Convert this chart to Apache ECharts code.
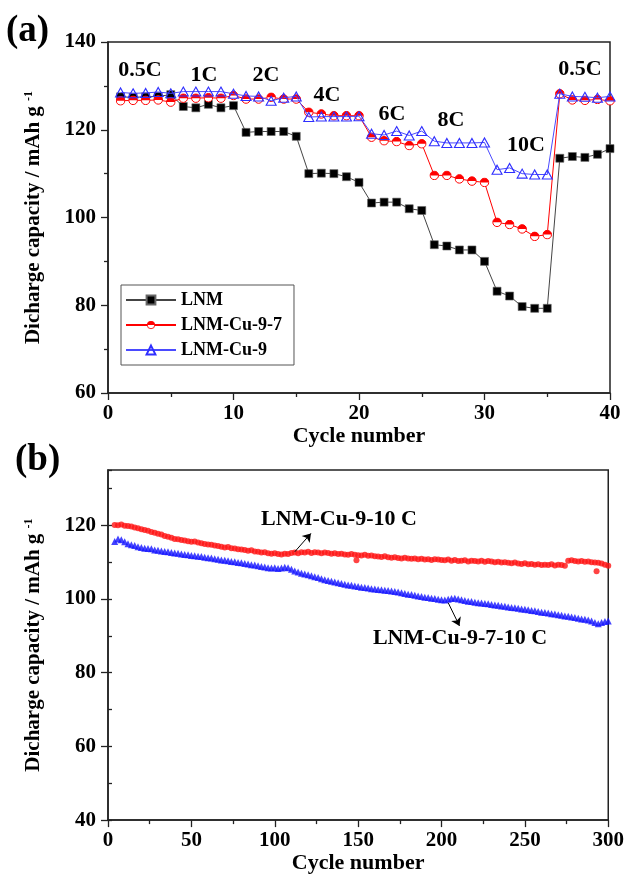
<!DOCTYPE html>
<html><head><meta charset="utf-8">
<script src="https://cdn.jsdelivr.net/npm/echarts@6/dist/echarts.min.js"></script>
<style>html,body{margin:0;padding:0;background:#fff}#c{width:627px;height:875px}</style>
</head><body><div id="c"></div>
<script>
// ---------- Panel (a): rate capability ----------
const cyclesA = [1,2,3,4,5,6,7,8,9,10,11,12,13,14,15,16,17,18,19,20,21,22,23,24,25,26,27,28,29,30,31,32,33,34,35,36,37,38,39,40];
const lnm = [127.5,127.4,127.5,127.6,128.0, 125.3,125.0,125.8,125.0,125.5, 119.4,119.6,119.6,119.6,118.5, 110.0,110.1,110.0,109.3,108.0, 103.3,103.5,103.5,102.0,101.6, 93.8,93.5,92.6,92.6,90.0, 83.2,82.1,79.7,79.3,79.3, 113.5,113.9,113.7,114.4,115.7];
const lnmCu97 = [126.6,126.7,126.7,126.8,126.3, 127.2,127.2,127.3,127.2,127.8, 127.0,127.0,127.4,127.0,127.0, 124.0,123.6,123.2,123.2,123.2, 118.3,117.5,117.3,116.4,116.8, 109.6,109.6,108.8,108.3,108.0, 98.9,98.4,97.4,95.7,96.1, 128.2,126.8,126.7,126.9,126.6];
const lnmCu9 = [128.5,128.3,128.4,128.6,128.3, 128.7,128.7,128.7,128.7,128.2, 127.7,127.6,126.6,127.3,127.6, 122.9,123.0,123.0,123.0,123.1, 119.1,118.8,119.7,118.7,119.7, 117.4,117.0,117.0,117.0,117.1, 110.9,111.3,110.0,109.8,109.8, 128.2,127.6,127.5,127.3,127.6];
const rateLabels = ['0.5C','1C','2C','4C','6C','8C','10C','0.5C'];
const seriesNamesA = ['LNM','LNM-Cu-9-7','LNM-Cu-9'];

// ---------- Panel (b): long cycling at 10 C ----------
const cyclesB = [];
for (let c = 4; c <= 300; c += 2) cyclesB.push(c);
const cu9_10C = [120.1,120.0,120.2,119.9,119.8,119.7,119.4,119.2,118.9,
 118.7,118.5,118.2,118.0,117.7,117.5,117.1,116.9,116.6,116.3,
 116.2,116.0,115.9,115.7,115.5,115.6,115.3,115.1,114.9,114.8,
 114.7,114.5,114.4,114.2,114.0,114.1,113.8,113.7,113.5,113.4,
 113.3,113.1,113.2,112.9,112.8,112.6,112.7,112.4,112.3,112.4,
 112.2,112.1,112.3,112.2,112.5,112.6,112.4,112.7,112.6,112.8,
 112.5,112.7,112.6,112.4,112.6,112.5,112.3,112.4,112.2,112.3,
 112.1,112.0,112.2,112.0,111.9,111.8,112.0,111.7,111.8,111.6,
 111.5,111.4,111.6,111.3,111.2,111.3,111.1,111.0,111.2,111.0,
 110.9,111.0,110.8,110.9,110.7,110.8,110.6,110.8,110.7,110.6,
 110.5,110.7,110.4,110.6,110.3,110.4,110.5,110.2,110.4,110.3,
 110.2,110.4,110.1,110.3,110.2,110.0,110.1,109.9,110.0,109.8,
 109.7,109.9,109.6,109.5,109.7,109.4,109.5,109.3,109.4,109.2,
 109.3,109.2,109.4,109.1,109.3,109.2,109.0,110.4,110.5,110.3,
 110.2,110.3,110.1,110.2,110.0,109.9,109.8,109.6,109.3,109.0];
const cu9OutlierCycles = [149, 293];
const cu9OutlierValues = [110.5, 107.5];
const cu97_10C = [115.6,116.3,116.1,115.5,115.0,114.7,114.5,114.2,114.0,
 113.8,113.7,113.6,113.3,113.2,113.0,112.9,112.8,112.6,112.5,
 112.4,112.2,112.1,112.0,111.8,111.7,111.6,111.5,111.3,111.2,
 111.1,110.9,110.8,110.6,110.5,110.4,110.2,110.1,109.9,109.8,
 109.6,109.5,109.3,109.2,109.0,108.8,108.7,108.5,108.4,108.5,
 108.3,108.4,108.6,108.5,108.1,107.6,107.3,107.0,106.8,106.6,
 106.3,106.0,105.8,105.5,105.2,105.0,104.8,104.6,104.4,104.2,
 104.0,103.8,103.7,103.5,103.4,103.2,103.1,103.0,102.8,102.7,
 102.6,102.5,102.4,102.3,102.2,102.0,101.9,101.7,101.5,101.3,
 101.2,101.0,100.8,100.7,100.5,100.4,100.2,100.1,99.9,99.8,
 99.7,99.9,100.1,100.2,100.0,99.8,99.6,99.4,99.3,99.1,
 99.0,98.9,98.8,98.7,98.5,98.4,98.3,98.1,98.0,97.8,
 97.7,97.6,97.5,97.3,97.2,97.1,96.9,96.8,96.6,96.4,
 96.3,96.2,96.0,95.9,95.7,95.6,95.4,95.3,95.1,95.0,
 94.8,94.6,94.5,94.3,94.0,93.6,93.3,93.6,93.9,94.0];
const seriesNamesB = ['LNM-Cu-9-10 C','LNM-Cu-9-7-10 C'];

// ---------- styling ----------
const FF = '"Liberation Serif","Times New Roman",serif';
const AX = '#222';
const pair = (xs, ys) => xs.map((x, i) => [x, ys[i]]);
const halfSvg = '<svg xmlns="http://www.w3.org/2000/svg" width="40" height="40" viewBox="0 0 40 40">' +
  '<circle cx="20" cy="20" r="17" fill="#ffffff" stroke="#ff0000" stroke-width="4"/>' +
  '<path d="M3 20 A17 17 0 0 1 37 20 Z" fill="#ff0000"/></svg>';
const halfCircle = 'image://data:image/svg+xml;charset=utf-8,' + encodeURIComponent(halfSvg);

const labelStyle = {color: '#000', fontFamily: FF, fontWeight: 'bold', fontSize: 21};
const nameStyle = {color: '#000', fontFamily: FF, fontWeight: 'bold', fontSize: 21,
  rich: {s: {fontFamily: FF, fontWeight: 'bold', fontSize: 12, color: '#000', verticalAlign: 'top', lineHeight: 12}}};

function xAxisCfg(grid, max, interval) {
  return {type: 'value', gridIndex: grid, min: 0, max: max, interval: interval,
    name: 'Cycle number', nameLocation: 'middle', nameGap: 26,
    nameTextStyle: {color: '#000', fontFamily: FF, fontWeight: 'bold', fontSize: 22},
    axisLine: {show: true, onZero: false, lineStyle: {color: AX, width: 1.5}},
    axisTick: {show: true, length: 7, lineStyle: {color: AX, width: 1.3}},
    minorTick: {show: true, splitNumber: 2, length: 4, lineStyle: {color: AX, width: 1.3}},
    axisLabel: Object.assign({margin: 10}, labelStyle),
    splitLine: {show: false}, minorSplitLine: {show: false}};
}

const option = {
  animation: false,
  backgroundColor: '#fff',
  grid: [
    {left: 108, right: 17, top: 42, height: 351, show: true, borderColor: AX, borderWidth: 1.5, backgroundColor: 'transparent'},
    {left: 108, right: 17, top: 470, height: 354, show: true, borderColor: AX, borderWidth: 1.5, backgroundColor: 'transparent'}
  ],
  xAxis: [xAxisCfg(0, 40, 10), xAxisCfg(1, 300, 50)],
  yAxis: [
    {type: 'value', gridIndex: 0, min: 60, max: 140, interval: 20,
      name: 'Dicharge capacity / mAh g {s|-1}', nameLocation: 'middle', nameGap: 64, nameTextStyle: nameStyle,
      axisLine: {show: true, onZero: false, lineStyle: {color: AX, width: 1.5}},
      axisTick: {show: true, length: 7, lineStyle: {color: AX, width: 1.3}},
      minorTick: {show: true, splitNumber: 2, length: 4, lineStyle: {color: AX, width: 1.3}},
      axisLabel: Object.assign({margin: 12}, labelStyle),
      splitLine: {show: false}},
    {type: 'value', gridIndex: 1, min: 40, max: 135, interval: 20,
      name: 'Dicharge capacity / mAh g {s|-1}', nameLocation: 'middle', nameGap: 64, nameTextStyle: nameStyle,
      axisLine: {show: true, onZero: false, lineStyle: {color: AX, width: 1.5}},
      axisTick: {show: true, length: 7, lineStyle: {color: AX, width: 1.3}},
      axisLabel: Object.assign({margin: 12, showMaxLabel: false,
        formatter: v => (v % 20 === 0 ? String(v) : '')}, labelStyle),
      splitLine: {show: false}},
    {type: 'value', gridIndex: 1, min: 40, max: 135, interval: 10,
      axisLine: {show: false}, axisLabel: {show: false}, splitLine: {show: false},
      axisTick: {show: true, length: 4, lineStyle: {color: AX, width: 1.3}}}
  ],
  legend: {
    data: seriesNamesA, orient: 'vertical', left: 121, top: 285,
    itemWidth: 50, itemHeight: 11, itemGap: 7,
    padding: [6, 12, 6, 4], borderColor: '#555', borderWidth: 1, backgroundColor: '#fff',
    textStyle: {color: '#000', fontFamily: FF, fontWeight: 'bold', fontSize: 18, lineHeight: 18}
  },
  series: [
    {name: seriesNamesA[0], type: 'line', xAxisIndex: 0, yAxisIndex: 0, data: pair(cyclesA, lnm),
      symbol: 'rect', symbolSize: 8, z: 2,
      itemStyle: {color: '#000', borderColor: '#666', borderWidth: 0.6},
      lineStyle: {color: '#444', width: 1}},
    {name: seriesNamesA[1], type: 'line', xAxisIndex: 0, yAxisIndex: 0, data: pair(cyclesA, lnmCu97),
      symbol: halfCircle, symbolSize: 10, z: 3,
      itemStyle: {color: '#ff0000'},
      lineStyle: {color: '#ff0000', width: 1}},
    {name: seriesNamesA[2], type: 'line', xAxisIndex: 0, yAxisIndex: 0, data: pair(cyclesA, lnmCu9),
      symbol: 'triangle', symbolSize: [10, 9], z: 4,
      itemStyle: {color: 'rgba(255,255,255,0)', borderColor: '#2f2fff', borderWidth: 1.1},
      lineStyle: {color: '#4a4aff', width: 1}},
    {name: seriesNamesB[0], type: 'scatter', xAxisIndex: 1, yAxisIndex: 1,
      data: pair(cyclesB, cu9_10C).concat(pair(cu9OutlierCycles, cu9OutlierValues)),
      symbol: 'circle', symbolSize: 6, itemStyle: {color: '#ff1414'},
      markLine: {silent: true, symbol: ['none', 'arrow'], symbolSize: 8, label: {show: false},
        lineStyle: {color: '#000', width: 1, type: 'solid'},
        data: [[{coord: [112, 112.8]}, {coord: [121.7, 117.8]}]]}},
    {name: seriesNamesB[1], type: 'scatter', xAxisIndex: 1, yAxisIndex: 2, data: pair(cyclesB, cu97_10C),
      symbol: 'triangle', symbolSize: 7, itemStyle: {color: '#1414ff'},
      markLine: {silent: true, symbol: ['none', 'arrow'], symbolSize: 8, label: {show: false},
        lineStyle: {color: '#000', width: 1, type: 'solid'},
        data: [[{coord: [204, 99.0]}, {coord: [210.8, 92.7]}]]}}
  ],
  graphic: []
};

function txt(t, x, y, size, align) {
  return {type: 'text', x: x, y: y, z: 100,
    style: {text: t, align: align || 'center', verticalAlign: 'middle',
      fontFamily: FF, fontWeight: 'bold', fontSize: size, fill: '#000'}};
}
const ratePos = [[140,70],[204,75],[266,75],[327,95],[392,114],[451,120],[526,145],[580,69]];
rateLabels.forEach((t, i) => option.graphic.push(txt(t, ratePos[i][0], ratePos[i][1], 22)));
option.graphic.push(txt('(a)', 6, 31, 37, 'left'));
option.graphic.push(txt('(b)', 15, 460, 37, 'left'));
option.graphic.push(txt(seriesNamesB[0], 339, 519, 22));
option.graphic.push(txt(seriesNamesB[1], 460, 638, 22));

const chart = echarts.init(document.getElementById('c'), null, {renderer: 'canvas'});
chart.setOption(option);
</script>
</body></html>
